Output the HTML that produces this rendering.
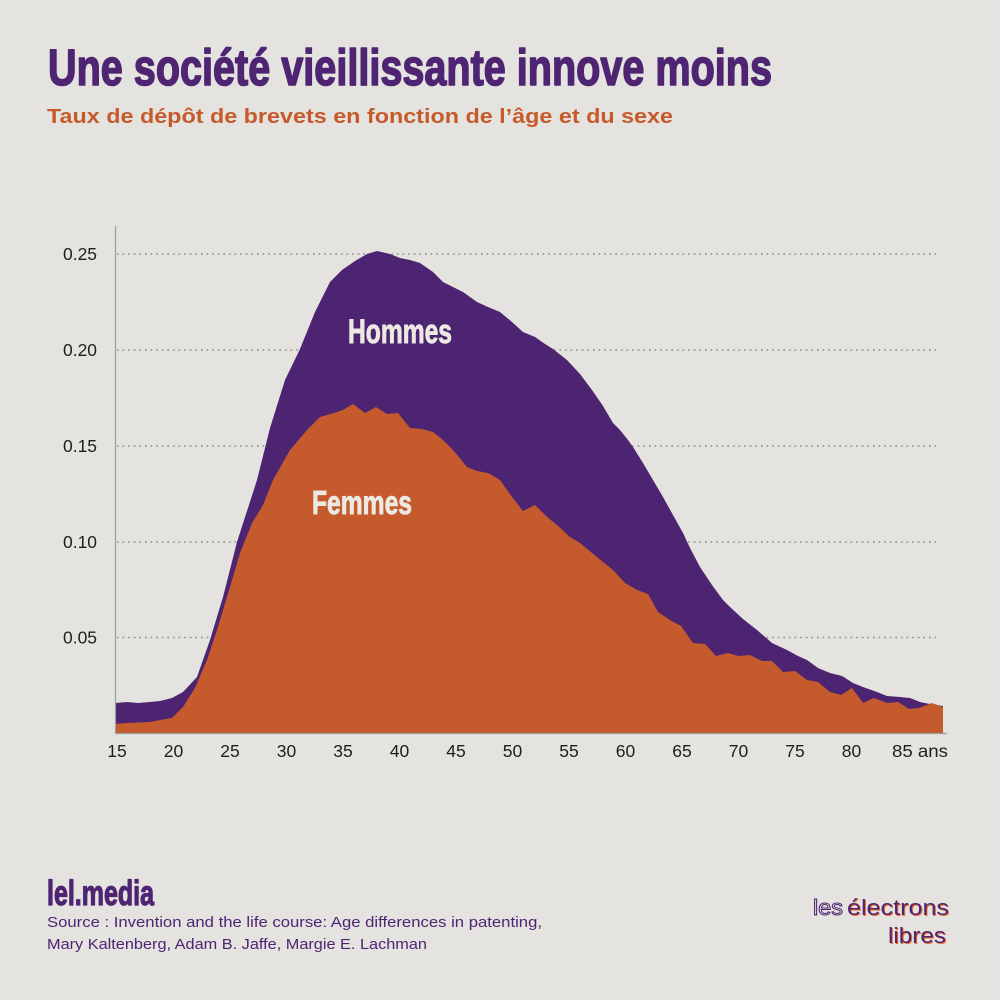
<!DOCTYPE html>
<html><head><meta charset="utf-8"><style>
html,body{margin:0;padding:0;background:#e4e3df;}
svg{display:block;}
</style></head><body>
<svg width="1000" height="1000" viewBox="0 0 1000 1000" xmlns="http://www.w3.org/2000/svg">
<rect width="1000" height="1000" fill="#e4e3df"/>
<text x="48" y="85" font-family="Liberation Sans Narrow, Liberation Sans, sans-serif" font-weight="bold" font-size="51" fill="#4e2473" stroke="#4e2473" stroke-width="1.6" stroke-linejoin="round" textLength="724" lengthAdjust="spacingAndGlyphs">Une société vieillissante innove moins</text>
<text x="47" y="123" font-family="Liberation Sans, sans-serif" font-weight="bold" font-size="20" fill="#c75a2a" textLength="626" lengthAdjust="spacingAndGlyphs">Taux de dépôt de brevets en fonction de l’âge et du sexe</text>

<g stroke="#8a8a88" stroke-width="1.6" stroke-dasharray="1.6 4" stroke-linecap="butt">
<line x1="117" y1="254" x2="940" y2="254"/>
<line x1="117" y1="350" x2="940" y2="350"/>
<line x1="117" y1="446" x2="940" y2="446"/>
<line x1="117" y1="542" x2="940" y2="542"/>
<line x1="117" y1="637.5" x2="940" y2="637.5"/>
</g>

<polygon fill="#4d2471" points="115,733 115,703 127,702 138,703 150,702 160,701 172,698 183,692 197,677 210,640 223,597 237,542 257,480 270,428 285,380 300,349 315,312 330,282 342,270 355,261 367,254 377,251 390,254 400,258 410,260 420,263 433,272 443,282 453,287 463,292 477,302 488,307 500,312 512,322 523,332 535,337 545,344 553,349 567,360 580,374 592,390 603,406 613,423 620,430 628,440 633,447 643,463 653,480 663,497 673,515 683,533 690,548 700,567 712,585 723,600 730,607 743,619 757,630 772,643 787,650 798,656 807,660 818,668 830,673 842,676 853,683 863,687 877,692 887,696 900,697 910,698 920,702 930,704 943,706 943,733"/>

<polygon fill="#c55b2c" points="115,733 115,724 127,723 150,722 160,720 172,718 183,707 195,688 207,660 217,630 230,587 240,553 252,523 263,505 273,480 290,450 307,430 320,417 331,414 343,410 353,404 365,413 376,407 387,414 398,413 410,428 422,429 433,432 443,440 453,450 467,467 477,471 488,473 500,480 512,497 523,511 535,505 547,517 557,525 570,537 580,543 592,553 603,562 613,570 625,583 637,590 648,594 658,612 670,620 681,626 693,643 705,644 716,656 728,653 738,656 750,655 762,661 772,661 783,672 795,671 807,680 818,682 830,692 841,695 852,688 863,703 874,698 887,703 898,702 909,709 919,708 932,703 943,707 943,733"/>

<line x1="115.5" y1="226" x2="115.5" y2="733" stroke="#9d9d9b" stroke-width="1.2"/>
<line x1="115" y1="733.5" x2="947" y2="733.5" stroke="#9d9d9b" stroke-width="1.2"/>

<text x="348" y="343" font-family="Liberation Sans Narrow, Liberation Sans, sans-serif" font-weight="bold" font-size="34" fill="#ece9e3" stroke="#ece9e3" stroke-width="0.9" stroke-linejoin="round" textLength="104" lengthAdjust="spacingAndGlyphs">Hommes</text>
<text x="312" y="514" font-family="Liberation Sans Narrow, Liberation Sans, sans-serif" font-weight="bold" font-size="33" fill="#ece9e3" stroke="#ece9e3" stroke-width="0.9" stroke-linejoin="round" textLength="100" lengthAdjust="spacingAndGlyphs">Femmes</text>

<g font-family="Liberation Sans, sans-serif" font-size="17.5" fill="#1e1e1e" text-anchor="end">
<text x="97" y="260" textLength="34" lengthAdjust="spacingAndGlyphs">0.25</text>
<text x="97" y="356" textLength="34" lengthAdjust="spacingAndGlyphs">0.20</text>
<text x="97" y="452" textLength="34" lengthAdjust="spacingAndGlyphs">0.15</text>
<text x="97" y="548" textLength="34" lengthAdjust="spacingAndGlyphs">0.10</text>
<text x="97" y="643.5" textLength="34" lengthAdjust="spacingAndGlyphs">0.05</text>
</g>
<g font-family="Liberation Sans, sans-serif" font-size="17.5" fill="#1e1e1e" text-anchor="middle">
<text x="117" y="757">15</text>
<text x="173.5" y="757">20</text>
<text x="230" y="757">25</text>
<text x="286.5" y="757">30</text>
<text x="343" y="757">35</text>
<text x="399.5" y="757">40</text>
<text x="456" y="757">45</text>
<text x="512.5" y="757">50</text>
<text x="569" y="757">55</text>
<text x="625.5" y="757">60</text>
<text x="682" y="757">65</text>
<text x="738.5" y="757">70</text>
<text x="795" y="757">75</text>
<text x="851.5" y="757">80</text>
</g>
<text x="892" y="757" font-family="Liberation Sans, sans-serif" font-size="17.5" fill="#1e1e1e" textLength="56" lengthAdjust="spacingAndGlyphs">85 ans</text>

<text x="47" y="905" font-family="Liberation Sans Narrow, Liberation Sans, sans-serif" font-weight="bold" font-size="35" fill="#4e2473" stroke="#4e2473" stroke-width="1.2" stroke-linejoin="round" textLength="107" lengthAdjust="spacingAndGlyphs">lel.media</text>
<text x="47" y="927" font-family="Liberation Sans, sans-serif" font-size="15" fill="#4e2473" textLength="495" lengthAdjust="spacingAndGlyphs">Source : Invention and the life course: Age differences in patenting,</text>
<text x="47" y="949" font-family="Liberation Sans, sans-serif" font-size="15" fill="#4e2473" textLength="380" lengthAdjust="spacingAndGlyphs">Mary Kaltenberg, Adam B. Jaffe, Margie E. Lachman</text>

<g font-family="Liberation Sans, sans-serif" font-size="22">
<text x="813" y="915" fill="none" stroke="#4e2473" stroke-width="1" textLength="30" lengthAdjust="spacingAndGlyphs">les</text>
<text x="848" y="916" fill="#e8692a" textLength="102" lengthAdjust="spacingAndGlyphs">électrons</text>
<text x="847" y="915" fill="#4e2473" textLength="102" lengthAdjust="spacingAndGlyphs">électrons</text>
<text x="889" y="944" fill="#e8692a" textLength="58" lengthAdjust="spacingAndGlyphs">libres</text>
<text x="888" y="943" fill="#4e2473" textLength="58" lengthAdjust="spacingAndGlyphs">libres</text>
</g>
</svg>
</body></html>
